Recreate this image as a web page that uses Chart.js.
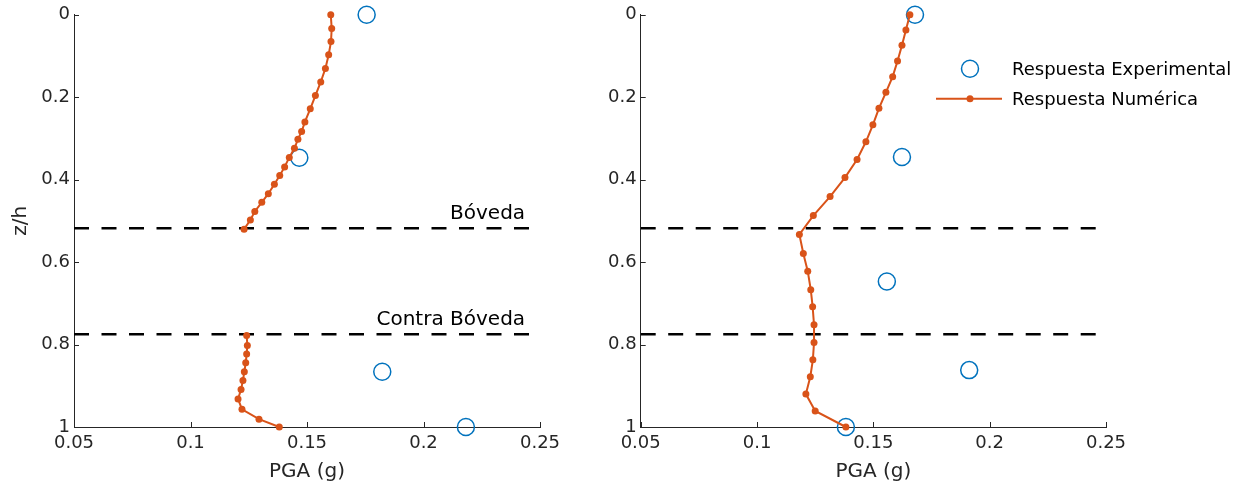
<!DOCTYPE html>
<html>
<head>
<meta charset="utf-8">
<script src="https://cdn.jsdelivr.net/npm/chart.js@4/dist/chart.umd.min.js"></script>
<style>
  html, body { margin: 0; padding: 0; background: #fff; }
  #wrap { position: relative; width: 1247px; height: 490px; }
  canvas { position: absolute; top: 0; }
</style>
</head>
<body>
<div id="wrap">
  <canvas id="left" width="600" height="490" style="left:0"></canvas>
  <canvas id="right" width="647" height="490" style="left:600px"></canvas>
</div>
<script>
// axis ticks
var pgaTicks = [0.05, 0.1, 0.15, 0.2, 0.25];
var depthTicks = [0, 0.2, 0.4, 0.6, 0.8, 1];

// structural levels (dashed lines)
var layerDepth = [0.518, 0.775];
var layerNames = ['Bóveda', 'Contra Bóveda'];
var seriesNames = ['Respuesta Experimental', 'Respuesta Numérica'];

// left panel - numerical (null = gap between the two sections)
var leftNumDepth = [0, 0.033, 0.065, 0.097, 0.130, 0.163, 0.196, 0.228, 0.260, 0.283, 0.302,
  0.324, 0.346, 0.369, 0.390, 0.411, 0.434, 0.455, 0.477, 0.498, 0.520, null,
  0.778, 0.802, 0.823, 0.844, 0.866, 0.887, 0.909, 0.932, 0.957, 0.981, 1.0];
var leftNumPGA = [0.1602, 0.1606, 0.1603, 0.1593, 0.1579, 0.1559, 0.1536, 0.1514, 0.1491, 0.1477, 0.1461,
  0.1446, 0.1424, 0.1404, 0.1383, 0.1360, 0.1334, 0.1306, 0.1276, 0.1257, 0.1230, null,
  0.1241, 0.1244, 0.1241, 0.1237, 0.1231, 0.1225, 0.1217, 0.1204, 0.1221, 0.1294, 0.1381];
// left panel - experimental
var leftExpDepth = [0, 0.347, 0.866, 1.0];
var leftExpPGA = [0.1756, 0.1467, 0.1823, 0.2182];

// right panel - numerical
var rightNumDepth = [0, 0.037, 0.074, 0.112, 0.150, 0.188, 0.227, 0.267, 0.308, 0.351, 0.395,
  0.441, 0.487, 0.533, 0.579, 0.622, 0.667, 0.708, 0.752, 0.795, 0.837, 0.878, 0.920, 0.961, 1.0];
var rightNumPGA = [0.1657, 0.1640, 0.1623, 0.1604, 0.1583, 0.1554, 0.1524, 0.1498, 0.1468, 0.1430, 0.1378,
  0.1314, 0.1242, 0.1182, 0.1199, 0.1218, 0.1231, 0.1239, 0.1245, 0.1245, 0.1240, 0.1229, 0.1210, 0.1250, 0.1382];
// right panel - experimental
var rightExpDepth = [0, 0.345, 0.647, 0.862, 1.0];
var rightExpPGA = [0.1679, 0.1623, 0.1558, 0.1912, 0.1382];

var blue = '#0072BD';
var orange = '#D95319';
var axisColor = '#262626';
var textColor = '#262626';
var fontFamily = "'DejaVu Sans', 'Liberation Sans', sans-serif";

Chart.defaults.font.family = fontFamily;
Chart.defaults.color = textColor;

function pts(xs, ys) {
  return xs.map(function (x, i) { return { x: x, y: ys[i] }; });
}

function makeDatasets(expPGA, expDepth, numPGA, numDepth) {
  var sets = [{
    label: seriesNames[1],
    data: pts(numPGA, numDepth),
    showLine: true,
    spanGaps: false,
    borderColor: orange,
    backgroundColor: orange,
    borderWidth: 2,
    pointRadius: 3.5,
    pointBorderWidth: 0,
    clip: false,
    order: 0
  }, {
    label: seriesNames[0],
    data: pts(expPGA, expDepth),
    showLine: false,
    borderColor: blue,
    backgroundColor: 'rgba(0,0,0,0)',
    pointRadius: 8.5,
    pointBorderWidth: 1.5,
    clip: false,
    order: 1
  }];
  layerDepth.forEach(function (d) {
    sets.push({
      label: '',
      data: pts([pgaTicks[0], pgaTicks[pgaTicks.length - 1]], [d, d]),
      showLine: true,
      borderColor: '#000',
      borderWidth: 2.5,
      borderDash: [15, 12.5],
      pointRadius: 0,
      order: 2
    });
  });
  return sets;
}

function makeScales(yWidth, showTitle) {
  return {
    x: {
      type: 'linear',
      min: 0.05,
      max: 0.25,
      afterBuildTicks: function (s) { s.ticks = pgaTicks.map(function (v) { return { value: v }; }); },
      afterFit: function (s) { s.height = 63; },
      grid: { display: false, drawTicks: false },
      border: { display: true, color: axisColor, width: 1 },
      ticks: {
        padding: 6, color: textColor, font: { size: 18 }, maxRotation: 0, autoSkip: false,
        callback: function (v) { return String(v); }
      },
      title: { display: true, text: 'PGA (g)', color: textColor, font: { size: 20 }, padding: { top: 0, bottom: 6 } }
    },
    y: {
      type: 'linear',
      reverse: true,
      min: 0,
      max: 1,
      afterBuildTicks: function (s) { s.ticks = depthTicks.map(function (v) { return { value: v }; }); },
      afterFit: function (s) { s.width = yWidth; },
      grid: { display: false, drawTicks: false },
      border: { display: true, color: axisColor, width: 1 },
      ticks: {
        padding: 4, color: textColor, font: { size: 18 }, autoSkip: false,
        callback: function (v) { return String(v); }
      },
      title: { display: showTitle, text: 'z/h', color: textColor, font: { size: 20 }, padding: { top: 9, bottom: 0 } }
    }
  };
}

// MATLAB style ticks pointing into the plot
var insideTicks = {
  id: 'insideTicks',
  afterDraw: function (chart) {
    var ctx = chart.ctx, xs = chart.scales.x, ys = chart.scales.y, a = chart.chartArea;
    ctx.save();
    ctx.strokeStyle = axisColor;
    ctx.lineWidth = 1;
    ctx.beginPath();
    xs.ticks.forEach(function (t) {
      var px = Math.round(xs.getPixelForValue(t.value)) + 0.5;
      ctx.moveTo(px, a.bottom);
      ctx.lineTo(px, a.bottom - 5);
    });
    ys.ticks.forEach(function (t) {
      var py = Math.round(ys.getPixelForValue(t.value)) + 0.5;
      ctx.moveTo(a.left, py);
      ctx.lineTo(a.left + 5, py);
    });
    ctx.stroke();
    ctx.restore();
  }
};

var layerLabels = {
  id: 'layerLabels',
  afterDatasetsDraw: function (chart) {
    var ctx = chart.ctx, xs = chart.scales.x, ys = chart.scales.y;
    ctx.save();
    ctx.fillStyle = '#000';
    ctx.font = '20px ' + fontFamily;
    ctx.textAlign = 'right';
    ctx.textBaseline = 'alphabetic';
    layerNames.forEach(function (name, i) {
      ctx.fillText(name, xs.getPixelForValue(0.2436), ys.getPixelForValue(layerDepth[i]) - 9.5);
    });
    ctx.restore();
  }
};

var legendBox = {
  id: 'legendBox',
  afterDraw: function (chart) {
    var ctx = chart.ctx, a = chart.chartArea;
    var exp = chart.data.datasets[1], num = chart.data.datasets[0];
    var cx = a.right - 136;
    var tx = a.right - 94;
    var y1 = a.top + 54, y2 = a.top + 84;
    ctx.save();
    // experimental marker
    ctx.strokeStyle = exp.borderColor;
    ctx.lineWidth = exp.pointBorderWidth;
    ctx.beginPath();
    ctx.arc(cx, y1, exp.pointRadius, 0, Math.PI * 2);
    ctx.stroke();
    // numerical line + marker
    ctx.strokeStyle = num.borderColor;
    ctx.lineWidth = num.borderWidth;
    ctx.beginPath();
    ctx.moveTo(cx - 34, y2);
    ctx.lineTo(cx + 32, y2);
    ctx.stroke();
    ctx.fillStyle = num.backgroundColor;
    ctx.beginPath();
    ctx.arc(cx, y2, num.pointRadius, 0, Math.PI * 2);
    ctx.fill();
    // text
    ctx.fillStyle = '#000';
    ctx.font = '18px ' + fontFamily;
    ctx.textAlign = 'left';
    ctx.textBaseline = 'alphabetic';
    ctx.fillText(exp.label, tx, y1 + 6);
    ctx.fillText(num.label, tx, y2 + 6);
    ctx.restore();
  }
};

var leftChart = new Chart(document.getElementById('left'), {
  type: 'scatter',
  data: { datasets: makeDatasets(leftExpPGA, leftExpDepth, leftNumPGA, leftNumDepth) },
  options: {
    responsive: false,
    animation: false,
    devicePixelRatio: 1,
    layout: { padding: { left: 0, right: 60, top: 13, bottom: 0 } },
    scales: makeScales(74, true),
    plugins: { legend: { display: false }, tooltip: { enabled: false } }
  },
  plugins: [insideTicks, layerLabels]
});

var rightChart = new Chart(document.getElementById('right'), {
  type: 'scatter',
  data: { datasets: makeDatasets(rightExpPGA, rightExpDepth, rightNumPGA, rightNumDepth) },
  options: {
    responsive: false,
    animation: false,
    devicePixelRatio: 1,
    layout: { padding: { left: 0, right: 141, top: 13, bottom: 0 } },
    scales: makeScales(40.7, false),
    plugins: { legend: { display: false }, tooltip: { enabled: false } }
  },
  plugins: [insideTicks, legendBox]
});
</script>
</body>
</html>
